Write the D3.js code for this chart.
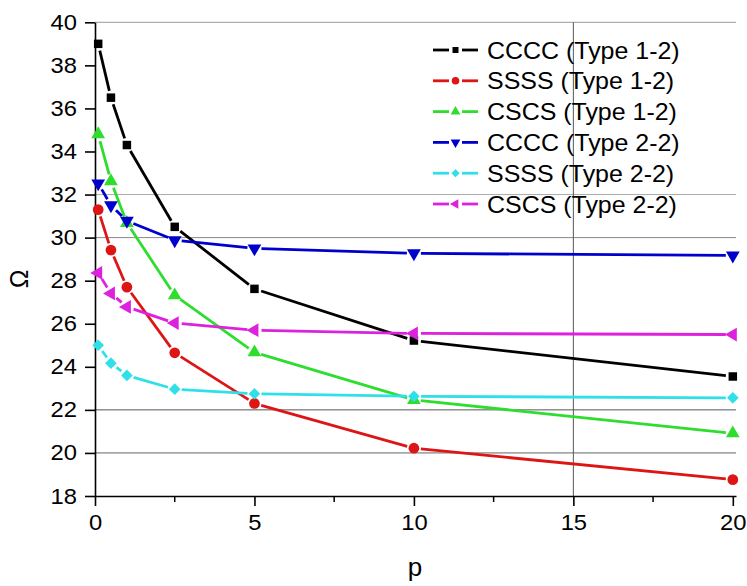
<!DOCTYPE html>
<html>
<head>
<meta charset="utf-8">
<script src="https://cdn.jsdelivr.net/npm/d3@7"></script>
<style>
  body { margin: 0; background: #fff; }
  text { font-family: Arial, 'Liberation Sans', sans-serif; fill: #000; }
</style>
</head>
<body>
<div id="chart"></div>
<script>
const pValues = [0.1, 0.5, 1, 2.5, 5, 10, 20];

const ccccType12 = [39.0, 36.5, 34.3, 30.5, 27.62, 25.22, 23.55];
const ssssType12 = [31.3, 29.42, 27.7, 24.65, 22.3, 20.22, 18.76];
const cscsType12 = [34.8, 32.62, 30.68, 27.32, 24.67, 22.46, 20.91];
const ccccType22 = [32.52, 31.5, 30.78, 29.88, 29.5, 29.27, 29.17];
const ssssType22 = [25.0, 24.17, 23.6, 22.96, 22.75, 22.63, 22.56];
const cscsType22 = [28.36, 27.41, 26.78, 26.03, 25.7, 25.55, 25.5];

const seriesNames = [
  'CCCC (Type 1-2)', 'SSSS (Type 1-2)', 'CSCS (Type 1-2)',
  'CCCC (Type 2-2)', 'SSSS (Type 2-2)', 'CSCS (Type 2-2)',
];

const yTicks = [18, 20, 22, 24, 26, 28, 30, 32, 34, 36, 38, 40];
const xTicks = [0, 5, 10, 15, 20];
const xMinorTicks = [2.5, 7.5, 12.5, 17.5];
const gridYValues = [40, 32, 30, 22, 20];
const gridXValues = [15];

const width = 747;
const height = 586;

const series = [
  { name: seriesNames[0], values: ccccType12, color: '#000000', shape: d3.symbolSquare, size: 72, rotate: 0 },
  { name: seriesNames[1], values: ssssType12, color: '#dd1515', shape: d3.symbolCircle, size: 90, rotate: 0 },
  { name: seriesNames[2], values: cscsType12, color: '#2fdd2f', shape: d3.symbolTriangle, size: 82, rotate: 0 },
  { name: seriesNames[3], values: ccccType22, color: '#0000cc', shape: d3.symbolTriangle, size: 82, rotate: 180 },
  { name: seriesNames[4], values: ssssType22, color: '#30e0e8', shape: d3.symbolSquare, size: 68, rotate: 45 },
  { name: seriesNames[5], values: cscsType22, color: '#dd22dd', shape: d3.symbolTriangle, size: 82, rotate: -90 },
];

const svg = d3.select('#chart').append('svg')
  .attr('width', width)
  .attr('height', height);

const x = d3.scaleLinear().domain([0, 20.1]).range([95, 736]);
const y = d3.scaleLinear().domain([18, 40]).range([496, 22.3]);

// grid lines (only a few are shown in the original)
const gridColors = { 40: '#9a9a9a', 32: '#ababab', 30: '#888', 22: '#555', 20: '#666' };
svg.append('g').selectAll('line')
  .data(gridYValues)
  .enter()
  .append('line')
  .attr('x1', x(0))
  .attr('x2', x(20.1))
  .attr('y1', d => y(d))
  .attr('y2', d => y(d))
  .attr('stroke', d => gridColors[d])
  .attr('stroke-width', 1);

svg.append('g').selectAll('line')
  .data(gridXValues)
  .enter()
  .append('line')
  .attr('x1', d => x(d))
  .attr('x2', d => x(d))
  .attr('y1', y(40))
  .attr('y2', y(18))
  .attr('stroke', '#555')
  .attr('stroke-width', 1);

// axes
const stretch = 1.08;

const yAxis = svg.append('g')
  .attr('transform', `translate(${x(0)},0)`)
  .call(d3.axisLeft(y).tickValues(yTicks).tickSize(10).tickPadding(9).tickSizeOuter(0));

const xAxis = svg.append('g')
  .attr('transform', `translate(0,${y(18)})`)
  .call(d3.axisBottom(x).tickValues(xTicks).tickSize(10).tickPadding(9).tickSizeOuter(0));

xAxis.selectAll('.minor')
  .data(xMinorTicks)
  .enter()
  .append('line')
  .attr('class', 'minor')
  .attr('x1', d => x(d))
  .attr('x2', d => x(d))
  .attr('y1', 0)
  .attr('y2', 6)
  .attr('stroke', '#000')
  .attr('stroke-width', 1.5);

[yAxis, xAxis].forEach(ax => {
  ax.selectAll('path.domain').attr('stroke', '#000').attr('stroke-width', 1.6);
  ax.selectAll('.tick line').attr('stroke', '#000').attr('stroke-width', 1.6);
  ax.selectAll('.tick text')
    .attr('font-size', 22)
    .attr('font-family', 'Arial, Liberation Sans, sans-serif')
    .attr('fill', '#000');
});

yAxis.selectAll('.tick text')
  .attr('transform', `translate(-18,0) scale(${stretch},1)`)
  .attr('x', 0);

xAxis.selectAll('.tick text')
  .attr('transform', `translate(0,18) scale(${stretch},1)`)
  .attr('y', 0);

// axis titles
svg.append('text')
  .attr('transform', 'translate(28,279) rotate(-90)')
  .attr('text-anchor', 'middle')
  .attr('font-size', 25)
  .text('Ω');

svg.append('text')
  .attr('x', 415)
  .attr('y', 576)
  .attr('text-anchor', 'middle')
  .attr('font-size', 26)
  .text('p');

// series lines with a small gap around each symbol
const gap = 7;

function drawSeries(s) {
  const pts = pValues.map((p, i) => [x(p), y(s.values[i])]);
  const g = svg.append('g');
  const segs = d3.pairs(pts).map(([a, b]) => {
    const dx = b[0] - a[0];
    const dy = b[1] - a[1];
    const len = Math.hypot(dx, dy);
    const ux = dx / len;
    const uy = dy / len;
    return [a[0] + ux * gap, a[1] + uy * gap, b[0] - ux * gap, b[1] - uy * gap, len];
  }).filter(d => d[4] > gap * 2);

  g.selectAll('line')
    .data(segs)
    .enter()
    .append('line')
    .attr('x1', d => d[0])
    .attr('y1', d => d[1])
    .attr('x2', d => d[2])
    .attr('y2', d => d[3])
    .attr('stroke', s.color)
    .attr('stroke-width', 2.8);

  g.selectAll('path')
    .data(pts)
    .enter()
    .append('path')
    .attr('d', d3.symbol().type(s.shape).size(s.size))
    .attr('transform', d => `translate(${d[0]},${d[1]}) rotate(${s.rotate})`)
    .attr('fill', s.color);
}

series.forEach(drawSeries);

// legend
const legendX = 433;
const legendY = 50;
const legendStep = 30.8;

const legend = svg.append('g');
series.forEach((s, i) => {
  const ly = legendY + i * legendStep;
  legend.append('line')
    .attr('x1', legendX).attr('x2', legendX + 16)
    .attr('y1', ly).attr('y2', ly)
    .attr('stroke', s.color).attr('stroke-width', 2.8);
  legend.append('line')
    .attr('x1', legendX + 29).attr('x2', legendX + 45)
    .attr('y1', ly).attr('y2', ly)
    .attr('stroke', s.color).attr('stroke-width', 2.8);
  legend.append('path')
    .attr('d', d3.symbol().type(s.shape).size(s.size * 0.5))
    .attr('transform', `translate(${legendX + 22.5},${ly}) rotate(${s.rotate})`)
    .attr('fill', s.color);
  legend.append('text')
    .attr('transform', `translate(487,${ly}) scale(1.04,1)`)
    .attr('dy', '0.36em')
    .attr('font-size', 24)
    .text(s.name);
});
</script>
</body>
</html>
